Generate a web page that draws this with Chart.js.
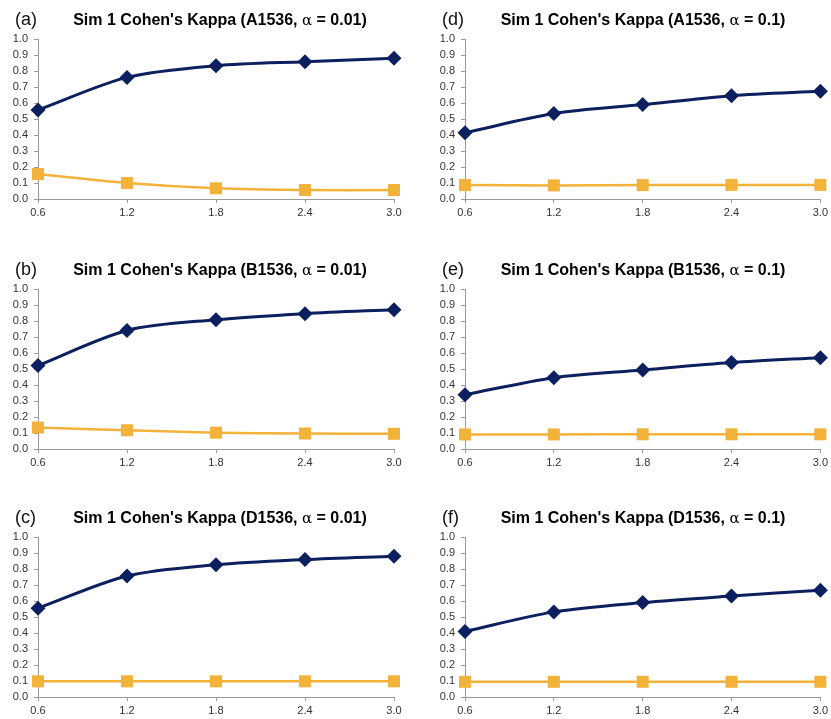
<!DOCTYPE html>
<html>
<head>
<meta charset="utf-8">
<script src="https://cdn.jsdelivr.net/npm/chart.js@4.4.0/dist/chart.umd.min.js"></script>
<style>
  html, body { margin: 0; padding: 0; background: #fff; overflow: hidden; }
  body { width: 831px; height: 719px; position: relative; font-family: "Liberation Sans", Arial, sans-serif; }
  .panel { position: absolute; }
  .ttl { position: absolute; font-weight: bold; font-size: 16px; line-height: 16px; white-space: nowrap; transform: translateX(-50%); color: #000; }
  .ttl .al { font-weight: normal; font-family: "DejaVu Serif", serif; font-size: 15px; }
  .tag { position: absolute; font-size: 18px; line-height: 18px; color: #111; }
</style>
</head>
<body>
<script>
// x positions (category labels)
var xLabels = ['0.6', '1.2', '1.8', '2.4', '3.0'];

// panel titles
var panelTags = ['(a)', '(b)', '(c)', '(d)', '(e)', '(f)'];
var panelSets = ['A1536', 'B1536', 'D1536', 'A1536', 'B1536', 'D1536'];
var panelAlphas = ['0.01', '0.01', '0.01', '0.1', '0.1', '0.1'];

// navy diamond series
var navyA = [0.556, 0.760, 0.833, 0.858, 0.879];
var navyB = [0.522, 0.741, 0.808, 0.846, 0.871];
var navyC = [0.555, 0.756, 0.826, 0.859, 0.880];
var navyD = [0.414, 0.534, 0.590, 0.646, 0.673];
var navyE = [0.339, 0.446, 0.494, 0.540, 0.571];
var navyF = [0.410, 0.532, 0.590, 0.631, 0.667];

// gold square series
var goldA = [0.156, 0.100, 0.067, 0.056, 0.056];
var goldB = [0.134, 0.117, 0.102, 0.097, 0.095];
var goldC = [0.098, 0.098, 0.098, 0.098, 0.098];
var goldD = [0.087, 0.085, 0.087, 0.088, 0.088];
var goldE = [0.091, 0.091, 0.092, 0.092, 0.092];
var goldF = [0.095, 0.095, 0.095, 0.095, 0.095];

var navySeries = [navyA, navyB, navyC, navyD, navyE, navyF];
var goldSeries = [goldA, goldB, goldC, goldD, goldE, goldF];

var NAVY = '#0c1f5e', GOLD = '#f3b23a', AXIS = '#9a9a9a';

// layout of the 6 panels: column/row
var colLeft = [0, 427], colWidth = [415, 404], colPadRight = [21, 9];
var rowTop = [0, 250, 498];
var titleCenter = [220, 643], tagLeft = [15, 442];

for (var i = 0; i < 6; i++) {
    var col = i < 3 ? 0 : 1, row = i % 3;
    var wrap = document.createElement('div');
    wrap.className = 'panel';
    wrap.style.left = colLeft[col] + 'px';
    wrap.style.top = rowTop[row] + 'px';
    wrap.style.width = colWidth[col] + 'px';
    wrap.style.height = '220px';
    var cv = document.createElement('canvas');
    wrap.appendChild(cv);
    document.body.appendChild(wrap);

    var tag = document.createElement('div');
    tag.className = 'tag';
    tag.style.left = tagLeft[col] + 'px';
    tag.style.top = (rowTop[row] + 10) + 'px';
    tag.textContent = panelTags[i];
    document.body.appendChild(tag);

    var ttl = document.createElement('div');
    ttl.className = 'ttl';
    ttl.style.left = titleCenter[col] + 'px';
    ttl.style.top = (rowTop[row] + 12) + 'px';
    ttl.innerHTML = "Sim 1 Cohen's Kappa (" + panelSets[i] + ', <span class="al">\u03b1</span> = ' + panelAlphas[i] + ')';
    document.body.appendChild(ttl);

    new Chart(cv, {
        type: 'line',
        data: {
            labels: xLabels,
            datasets: [{
                data: navySeries[i],
                borderColor: NAVY,
                backgroundColor: NAVY,
                borderWidth: 3,
                pointStyle: 'rectRot',
                pointRadius: 7.5,
                pointBorderWidth: 0,
                tension: 0.3,
                clip: false
            }, {
                data: goldSeries[i],
                borderColor: GOLD,
                backgroundColor: GOLD,
                borderWidth: 2.5,
                pointStyle: 'rect',
                pointRadius: 8.5,
                pointBorderWidth: 0,
                tension: 0.3,
                clip: false
            }]
        },
        options: {
            responsive: true,
            maintainAspectRatio: false,
            animation: false,
            layout: { padding: { top: 39, right: colPadRight[col], bottom: 1, left: 0 } },
            plugins: { legend: { display: false }, tooltip: { enabled: false } },
            scales: {
                x: {
                    offset: false,
                    afterFit: function(s) { s.height = 20; },
                    grid: { drawOnChartArea: false, tickLength: 4, color: AXIS },
                    border: { color: AXIS, width: 1 },
                    ticks: { color: '#333', font: { family: 'Liberation Sans', size: 11 }, padding: 3, maxRotation: 0, autoSkip: false }
                },
                y: {
                    min: 0, max: 1,
                    afterFit: function(s) { s.width = 38; },
                    grid: { drawOnChartArea: false, tickLength: 4, color: AXIS },
                    border: { color: AXIS, width: 1 },
                    ticks: {
                        stepSize: 0.1,
                        autoSkip: false,
                        color: '#333',
                        font: { family: 'Liberation Sans', size: 11 },
                        padding: 6,
                        callback: function(v) { return v.toFixed(1); }
                    }
                }
            }
        }
    });
}
</script>
</body>
</html>
